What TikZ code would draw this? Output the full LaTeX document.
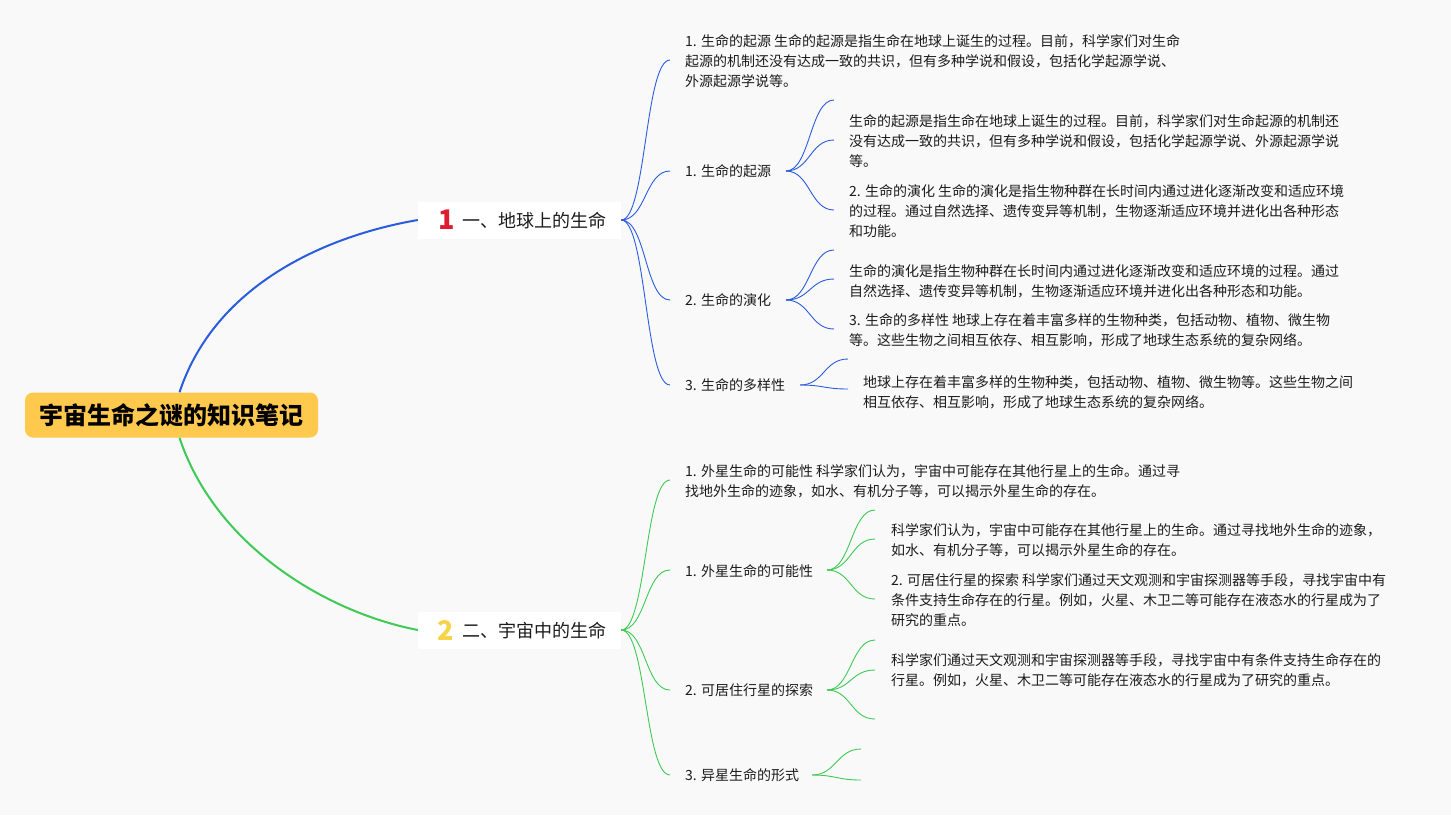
\documentclass[tikz,border=0pt]{standalone}
\usepackage{fontspec}
\setmainfont{Noto Sans CJK SC}
\definecolor{bg}{RGB}{249,249,250}
\definecolor{rootc}{RGB}{255,201,77}
\definecolor{blu}{RGB}{42,92,222}
\definecolor{grn}{RGB}{62,202,84}
\definecolor{txt}{RGB}{28,28,28}
\definecolor{redn}{RGB}{222,30,48}
\definecolor{yeln}{RGB}{246,212,72}
\begin{document}
\begin{tikzpicture}[x=1pt,y=-1pt,
  rootbox/.style={fill=rootc,rounded corners=8pt,minimum width=293pt,minimum height=45pt,inner sep=0pt,font=\fontsize{24}{24}\selectfont\bfseries,text=black},
  lonebox/.style={fill=white,minimum width=203pt,minimum height=37pt,inner sep=0pt},
  icon/.style={inner sep=0pt,font=\fontsize{27}{27}\selectfont\bfseries},
  ltext/.style={anchor=base west,inner sep=0pt,font=\fontsize{18}{18}\selectfont,text=txt},
  body/.style={anchor=base west,inner sep=0pt,align=left,font=\fontsize{14}{20}\selectfont,text=txt},
  mainb/.style={draw=blu,line width=2pt},
  maing/.style={draw=grn,line width=2pt},
  thinb/.style={draw=blu,line width=0.9pt},
  thing/.style={draw=grn,line width=0.9pt}]
\fill[bg] (0,0) rectangle (1451,815);
\useasboundingbox (0,0) rectangle (1451,815);

% root
\node[rootbox] (root) at (171.5,415) {宇宙生命之谜的知识笔记};

% level 1
\node[lonebox] (n1) at (519.5,220) {};
\node[icon,text=redn] (i1) at (447,220) {1};
\node[ltext] (t1) at (462,227) {一、地球上的生命};
\node[lonebox] (n2) at (519.5,630) {};
\node[icon,text=yeln] (i2) at (446,630) {2};
\node[ltext] (t2) at (462,637) {二、宇宙中的生命};

\draw[mainb] ([xshift=8pt]root.north) .. controls (215,285) and (325,236) .. (n1.west);
\draw[maing] ([xshift=8pt]root.south) .. controls (215,545) and (325,612) .. (n2.west);

% group 1 texts (multi-line nodes are placed by the baseline of their last line)
\node[body] (A) at (685,86) {1. 生命的起源 生命的起源是指生命在地球上诞生的过程。目前，科学家们对生命\\起源的机制还没有达成一致的共识，但有多种学说和假设，包括化学起源学说、\\外源起源学说等。};
\node[body] (B) at (685,176) {1. 生命的起源};
\node[body] (B1) at (849,166) {生命的起源是指生命在地球上诞生的过程。目前，科学家们对生命起源的机制还\\没有达成一致的共识，但有多种学说和假设，包括化学起源学说、外源起源学说\\等。};
\node[body] (B2) at (849,236) {2. 生命的演化 生命的演化是指生物种群在长时间内通过进化逐渐改变和适应环境\\的过程。通过自然选择、遗传变异等机制，生物逐渐适应环境并进化出各种形态\\和功能。};
\node[body] (C) at (685,305) {2. 生命的演化};
\node[body] (C1) at (849,296) {生命的演化是指生物种群在长时间内通过进化逐渐改变和适应环境的过程。通过\\自然选择、遗传变异等机制，生物逐渐适应环境并进化出各种形态和功能。};
\node[body] (C2) at (849,345) {3. 生命的多样性 地球上存在着丰富多样的生物种类，包括动物、植物、微生物\\等。这些生物之间相互依存、相互影响，形成了地球生态系统的复杂网络。};
\node[body] (D) at (685,390) {3. 生命的多样性};
\node[body] (D1) at (863,407) {地球上存在着丰富多样的生物种类，包括动物、植物、微生物等。这些生物之间\\相互依存、相互影响，形成了地球生态系统的复杂网络。};

% group 2 texts
\node[body] (E) at (685,496) {1. 外星生命的可能性 科学家们认为，宇宙中可能存在其他行星上的生命。通过寻\\找地外生命的迹象，如水、有机分子等，可以揭示外星生命的存在。};
\node[body] (F) at (685,576) {1. 外星生命的可能性};
\node[body] (F1) at (891,555) {科学家们认为，宇宙中可能存在其他行星上的生命。通过寻找地外生命的迹象，\\如水、有机分子等，可以揭示外星生命的存在。};
\node[body] (F2) at (891,625) {2. 可居住行星的探索 科学家们通过天文观测和宇宙探测器等手段，寻找宇宙中有\\条件支持生命存在的行星。例如，火星、木卫二等可能存在液态水的行星成为了\\研究的重点。};
\node[body] (G) at (685,695) {2. 可居住行星的探索};
\node[body] (G1) at (891,685) {科学家们通过天文观测和宇宙探测器等手段，寻找宇宙中有条件支持生命存在的\\行星。例如，火星、木卫二等可能存在液态水的行星成为了研究的重点。};
\node[body] (H) at (685,780) {3. 异星生命的形式};

% coordinates for branch ends
\coordinate (eA) at (670,60);
\coordinate (eB) at (670,171);
\coordinate (eC) at (670,300);
\coordinate (eD) at (670,385);
\coordinate (sB) at (786,171);
\coordinate (sC) at (786,300);
\coordinate (sD) at (800,385);
\coordinate (b1) at (834,100);
\coordinate (b2) at (834,140);
\coordinate (b3) at (834,210);
\coordinate (c1) at (834,250);
\coordinate (c2) at (834,279);
\coordinate (c3) at (834,329);
\coordinate (d1) at (848,359);
\coordinate (d2) at (848,389);

\coordinate (eE) at (670,480);
\coordinate (eF) at (670,570);
\coordinate (eG) at (670,690);
\coordinate (eH) at (670,775);
\coordinate (sF) at (827,570);
\coordinate (sG) at (827,690);
\coordinate (sH) at (812,775);
\coordinate (f1) at (875,510);
\coordinate (f2) at (875,539);
\coordinate (f3) at (875,599);
\coordinate (g1) at (875,640);
\coordinate (g2) at (875,670);
\coordinate (g3) at (875,719);
\coordinate (h1) at (861,749);
\coordinate (h2) at (861,780);

% group 1 branches
\foreach \e in {eA,eB,eC,eD}
  \draw[thinb] (n1.east) .. controls +(25,0) and +(-25,0) .. (\e);
\foreach \e in {b1,b2,b3}
  \draw[thinb] (sB) .. controls +(24,0) and +(-24,0) .. (\e);
\foreach \e in {c1,c2,c3}
  \draw[thinb] (sC) .. controls +(24,0) and +(-24,0) .. (\e);
\foreach \e in {d1,d2}
  \draw[thinb] (sD) .. controls +(24,0) and +(-24,0) .. (\e);

% group 2 branches
\foreach \e in {eE,eF,eG,eH}
  \draw[thing] (n2.east) .. controls +(25,0) and +(-25,0) .. (\e);
\foreach \e in {f1,f2,f3}
  \draw[thing] (sF) .. controls +(24,0) and +(-24,0) .. (\e);
\foreach \e in {g1,g2,g3}
  \draw[thing] (sG) .. controls +(24,0) and +(-24,0) .. (\e);
\foreach \e in {h1,h2}
  \draw[thing] (sH) .. controls +(24,0) and +(-24,0) .. (\e);
\end{tikzpicture}
\end{document}
